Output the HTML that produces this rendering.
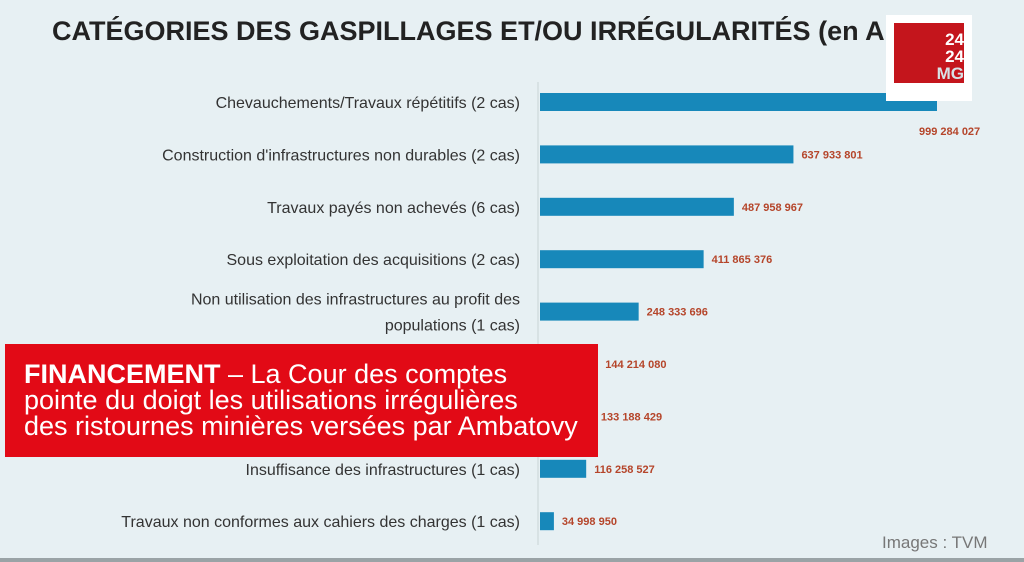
<!DOCTYPE html>
<html><head><meta charset="utf-8"><style>
body{margin:0;width:1024px;height:562px;overflow:hidden;background:#e8f1f4;font-family:"Liberation Sans",sans-serif}
#wrap{position:relative;width:1024px;height:562px}
</style></head><body>
<div id="wrap">
<svg id="chart" width="1024" height="562" style="position:absolute;left:0;top:0">
<rect x="0" y="0" width="1024" height="562" fill="#e7f0f3"/>
<rect x="0" y="558" width="1024" height="4" fill="#9aa3a6"/>
<text x="52" y="40" font-size="27" font-weight="bold" fill="#222">CATÉGORIES DES GASPILLAGES ET/OU IRRÉGULARITÉS (en Ar)</text>
<line x1="538" y1="82" x2="538" y2="545" stroke="#c9d3d6" stroke-width="1"/>
</svg>
<div style="position:absolute;left:886px;top:15px;width:86px;height:86px;background:#fff">
<div style="position:absolute;left:8px;top:8px;width:70px;height:60px;background:#c4151c"></div>
<div style="position:absolute;left:8px;top:8px;width:70px;height:70px;color:#fff;font-weight:bold;font-size:17px;line-height:17px;text-align:right;padding-top:8px;box-sizing:border-box">24<br>24<br><span style="color:#d7e2e6">MG</span></div>
</div>
<div style="position:absolute;left:5px;top:344px;width:593px;height:113px;background:#e20a16;color:#fff;font-size:27px;line-height:26px;padding:17px 0 0 19px;box-sizing:border-box;white-space:nowrap">
<b style="font-weight:900">FINANCEMENT</b> – La Cour des comptes<br>pointe du doigt les utilisations irrégulières<br>des ristournes minières versées par Ambatovy</div>
<div style="position:absolute;left:882px;top:533px;font-size:17px;color:#777">Images : TVM</div>
</div>
<script>
const categories=[["Chevauchements/Travaux répétitifs (2 cas)"],["Construction d'infrastructures non durables (2 cas)"],["Travaux payés non achevés (6 cas)"],["Sous exploitation des acquisitions (2 cas)"],["Non utilisation des infrastructures au profit des","populations (1 cas)"],[""],[""],["Insuffisance des infrastructures (1 cas)"],["Travaux non conformes aux cahiers des charges (1 cas)"]];
const values=[999284027,637933801,487958967,411865376,248333696,144214080,133188429,116258527,34998950];
const valueLabels=["999 284 027","637 933 801","487 958 967","411 865 376","248 333 696","144 214 080","133 188 429","116 258 527","34 998 950"];
const svg=document.getElementById('chart');const NS='http://www.w3.org/2000/svg';
const x=v=>540+v*397/999284027;
const y=i=>102+i*52.4;
values.forEach((v,i)=>{
 const r=document.createElementNS(NS,'rect');
 r.setAttribute('x',540);r.setAttribute('y',y(i)-9);r.setAttribute('width',x(v)-540);r.setAttribute('height',18);r.setAttribute('fill','#1788ba');
 
 
 svg.appendChild(r);
 const t=document.createElementNS(NS,'text');
 const first=i===0;
 t.setAttribute('x',first?x(v)-18:x(v)+8);t.setAttribute('y',first?y(i)+33:y(i)+4);
 t.setAttribute('font-size','11');t.setAttribute('font-weight','bold');t.setAttribute('fill','#b5452a');
 t.textContent=valueLabels[i];
 
 
 svg.appendChild(t);
 const lines=categories[i];
 lines.forEach((ln,k)=>{
  if(!ln)return;
  const c=document.createElementNS(NS,'text');
  c.setAttribute('x',520);c.setAttribute('y',y(i)+6+(k-(lines.length-1))*26+(lines.length>1?13:0));
  c.setAttribute('text-anchor','end');c.setAttribute('font-size','16');c.setAttribute('fill','#333');
  c.textContent=ln;
  
  
  svg.appendChild(c);
 });
});
</script>
</body></html>
